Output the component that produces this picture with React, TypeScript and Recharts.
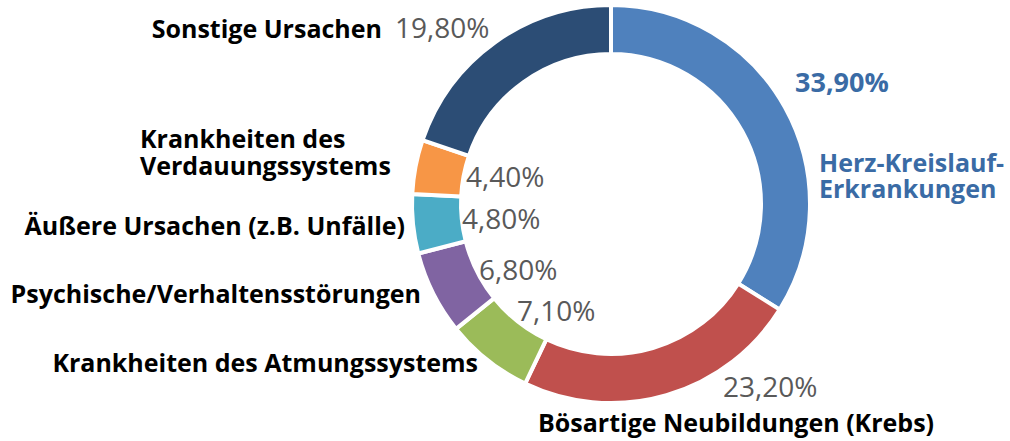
import React from "react";
import { PieChart, Pie, Cell } from "recharts";

const categories: string[] = [
  "Herz-Kreislauf-Erkrankungen",
  "Bösartige Neubildungen (Krebs)",
  "Krankheiten des Atmungssystems",
  "Psychische/Verhaltensstörungen",
  "Äußere Ursachen (z.B. Unfälle)",
  "Krankheiten des Verdauungssystems",
  "Sonstige Ursachen",
];
const nameLines: string[][] = [
  ["Herz-Kreislauf-", "Erkrankungen"],
  ["Bösartige Neubildungen (Krebs)"],
  ["Krankheiten des Atmungssystems"],
  ["Psychische/Verhaltensstörungen"],
  ["Äußere Ursachen (z.B. Unfälle)"],
  ["Krankheiten des", "Verdauungssystems"],
  ["Sonstige Ursachen"],
];
const values: number[] = [33.9, 23.2, 7.1, 6.8, 4.8, 4.4, 19.8];
const pctLabels: string[] = ["33,90%", "23,20%", "7,10%", "6,80%", "4,80%", "4,40%", "19,80%"];

const COLORS = ["#4F81BD", "#C0504D", "#9BBB59", "#8064A2", "#4BACC6", "#F79646", "#2C4D75"];

// label layout: offsets relative to pie center
const CX = 611;
const CY = 204;
type Layout = {
  px: number; py: number; // percent label start / baseline
  nx: number; ny: number; anchor: "start" | "end"; lh: number;
  highlight?: boolean;
};
const LAYOUT: Layout[] = [
  { px: 795 - CX, py: 92 - CY, nx: 819 - CX, ny: 172 - CY, anchor: "start", lh: 26, highlight: true },
  { px: 723 - CX, py: 397 - CY, nx: 538 - CX, ny: 432 - CY, anchor: "start", lh: 27 },
  { px: 517 - CX, py: 321 - CY, nx: 478 - CX, ny: 372 - CY, anchor: "end", lh: 27 },
  { px: 479 - CX, py: 280 - CY, nx: 421 - CX, ny: 303 - CY, anchor: "end", lh: 27 },
  { px: 462 - CX, py: 229 - CY, nx: 405 - CX, ny: 235 - CY, anchor: "end", lh: 27 },
  { px: 466 - CX, py: 187 - CY, nx: 140 - CX, ny: 148 - CY, anchor: "start", lh: 27 },
  { px: 395 - CX, py: 38 - CY, nx: 382 - CX, ny: 38 - CY, anchor: "end", lh: 27 },
];

const data = categories.map((name, i) => ({ name, value: values[i] }));

const BLUE_TEXT = "#3A6BA5";

const renderLabel = (props: any) => {
  const { cx, cy, index } = props;
  const L = LAYOUT[index];
  const hl = !!L.highlight;
  return (
    <g key={`lbl-${index}`}>
      <text
        x={cx + L.px}
        y={cy + L.py}
        textAnchor="start"
        fontFamily="'Open Sans', sans-serif"
        fontSize={hl ? 27 : 28}
        fontWeight={hl ? 700 : 400}
        fill={hl ? BLUE_TEXT : "#595959"}
      >
        {pctLabels[index]}
      </text>
      {nameLines[index].map((ln, j) => (
        <text
          key={j}
          x={cx + L.nx}
          y={cy + L.ny + j * L.lh}
          textAnchor={L.anchor}
          fontFamily="'Open Sans', sans-serif"
          fontSize={25}
          fontWeight={700}
          fill={hl ? BLUE_TEXT : "#000000"}
        >
          {ln}
        </text>
      ))}
    </g>
  );
};

export default function App() {
  return (
    <div style={{ position: "absolute", left: 0, top: 0, width: 1010, height: 441, background: "#fff" }}>
      <PieChart width={1010} height={441} margin={{ top: 0, right: 0, bottom: 0, left: 0 }}>
        <Pie
          data={data}
          dataKey="value"
          nameKey="name"
          cx={CX}
          cy={CY}
          innerRadius={150}
          outerRadius={199}
          startAngle={90}
          endAngle={-270}
          stroke="#ffffff"
          strokeWidth={4}
          label={renderLabel}
          labelLine={false}
          isAnimationActive={false}
        >
          {data.map((d, i) => (
            <Cell key={d.name} fill={COLORS[i]} />
          ))}
        </Pie>
      </PieChart>
    </div>
  );
}
